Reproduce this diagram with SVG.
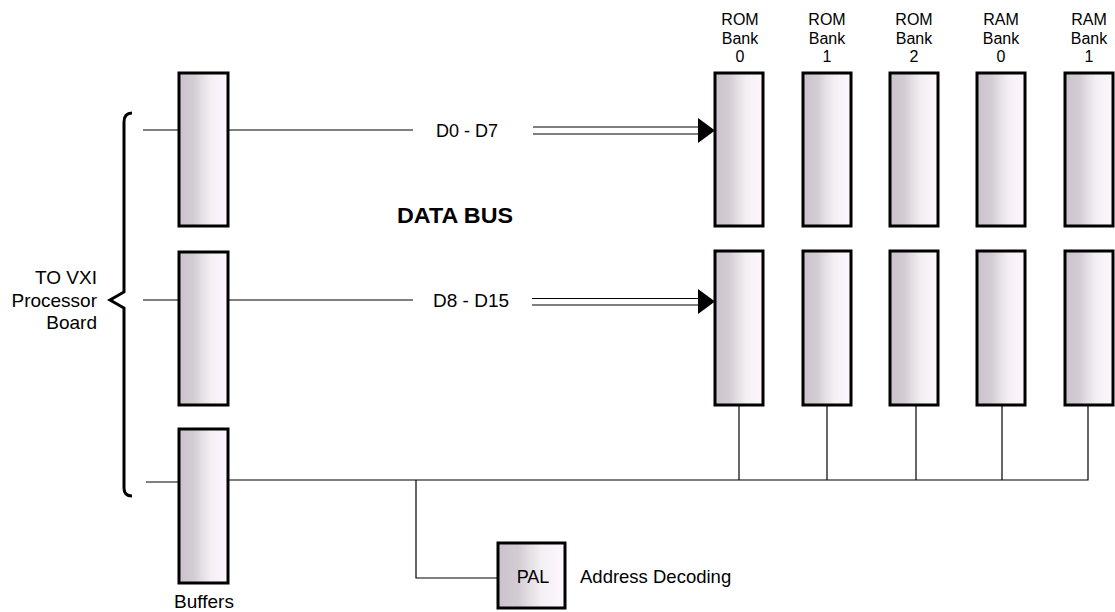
<svg xmlns="http://www.w3.org/2000/svg" width="1115" height="612" viewBox="0 0 1115 612">
<style>
.box{fill:url(#g);stroke:#000;stroke-width:3}
.ln{stroke:#000;stroke-width:1.2;fill:none}
.t{font-family:"Liberation Sans",Arial,sans-serif;font-size:19px;fill:#000}
.b{font-family:"Liberation Sans",Arial,sans-serif;font-size:16px;fill:#000;text-anchor:middle}
.c{text-anchor:middle}
</style>
<defs>
<linearGradient id="g" x1="0" y1="0" x2="1" y2="0">
<stop offset="0" stop-color="#cbc3cc"/>
<stop offset="0.3" stop-color="#d3ccd3"/>
<stop offset="0.45" stop-color="#e2dde2"/>
<stop offset="0.65" stop-color="#f3eff3"/>
<stop offset="1" stop-color="#fff8ff"/>
</linearGradient>
<marker id="ah" viewBox="0 0 17 25" refX="17" refY="12.5" markerWidth="17" markerHeight="25" markerUnits="userSpaceOnUse" orient="auto">
<path d="M0,0 L17,12.5 L0,25 Z" fill="#000"/>
</marker>
</defs>
<g id="connectors">
<line class="ln" x1="143" y1="130" x2="179" y2="130"/>
<line class="ln" x1="228" y1="130" x2="413" y2="130"/>
<line class="ln" x1="143" y1="300" x2="179" y2="300"/>
<line class="ln" x1="228" y1="300" x2="413" y2="300"/>
<line class="ln" x1="533" y1="127" x2="700" y2="127"/>
<line class="ln" x1="533" y1="134" x2="700" y2="134"/>
<line x1="690" y1="130.5" x2="715" y2="130.5" marker-end="url(#ah)" stroke="#000" stroke-width="0.01"/>
<line class="ln" x1="532" y1="298.5" x2="700" y2="298.5"/>
<line class="ln" x1="532" y1="305" x2="700" y2="305"/>
<line x1="690" y1="301.5" x2="715" y2="301.5" marker-end="url(#ah)" stroke="#000" stroke-width="0.01"/>
<line class="ln" x1="146" y1="482" x2="179" y2="482"/>
<polyline class="ln" points="228,480 1088,480 1088,405"/>
<line class="ln" x1="739" y1="405" x2="739" y2="480"/>
<line class="ln" x1="827" y1="405" x2="827" y2="480"/>
<line class="ln" x1="916" y1="405" x2="916" y2="480"/>
<line class="ln" x1="1002" y1="405" x2="1002" y2="480"/>
<polyline class="ln" points="416,480 416,578 498,578"/>
<path d="M132,113 Q124,113 124,122 L124,292 L110,300 L124,308 L124,488 Q124,496 132,496" fill="none" stroke="#000" stroke-width="3"/>
</g>
<g id="buffer1"><rect class="box" x="179" y="73" width="49" height="153"/></g>
<g id="buffer2"><rect class="box" x="179" y="252" width="49" height="153"/></g>
<g id="buffer3"><rect class="box" x="179" y="429" width="49" height="154"/><text class="t c" x="204" y="608">Buffers</text></g>
<g id="rom0">
<text class="b" x="740" y="25">ROM</text><text class="b" x="740" y="43.5">Bank</text><text class="b" x="740" y="62">0</text>
<rect class="box" x="715" y="73" width="48" height="153"/><rect class="box" x="715" y="251" width="48" height="154"/>
</g>
<g id="rom1">
<text class="b" x="827" y="25">ROM</text><text class="b" x="827" y="43.5">Bank</text><text class="b" x="827" y="62">1</text>
<rect class="box" x="803" y="73" width="48" height="153"/><rect class="box" x="803" y="251" width="48" height="154"/>
</g>
<g id="rom2">
<text class="b" x="914" y="25">ROM</text><text class="b" x="914" y="43.5">Bank</text><text class="b" x="914" y="62">2</text>
<rect class="box" x="890" y="73" width="48" height="153"/><rect class="box" x="890" y="251" width="48" height="154"/>
</g>
<g id="ram0">
<text class="b" x="1001" y="25">RAM</text><text class="b" x="1001" y="43.5">Bank</text><text class="b" x="1001" y="62">0</text>
<rect class="box" x="977" y="73" width="48" height="153"/><rect class="box" x="977" y="251" width="48" height="154"/>
</g>
<g id="ram1">
<text class="b" x="1089" y="25">RAM</text><text class="b" x="1089" y="43.5">Bank</text><text class="b" x="1089" y="62">1</text>
<rect class="box" x="1065" y="73" width="48" height="153"/><rect class="box" x="1065" y="251" width="48" height="154"/>
</g>
<g id="pal">
<rect class="box" x="498" y="543" width="67" height="65"/>
<text class="t c" x="533" y="583" style="font-size:18px">PAL</text>
<text class="t" x="580" y="583" style="font-size:18.5px">Address Decoding</text>
</g>
<g id="labels">
<text class="t" x="436" y="137" style="font-size:18px">D0 - D7</text>
<text class="t" x="433" y="307">D8 - D15</text>
<text x="455" y="223" text-anchor="middle" textLength="116" lengthAdjust="spacingAndGlyphs" style="font-family:'Liberation Sans',Arial,sans-serif;font-weight:bold;font-size:22px">DATA BUS</text>
<text class="t" x="97" y="284" text-anchor="end">TO VXI</text>
<text class="t" x="97" y="307" text-anchor="end">Processor</text>
<text class="t" x="97" y="329" text-anchor="end">Board</text>
</g>
</svg>
